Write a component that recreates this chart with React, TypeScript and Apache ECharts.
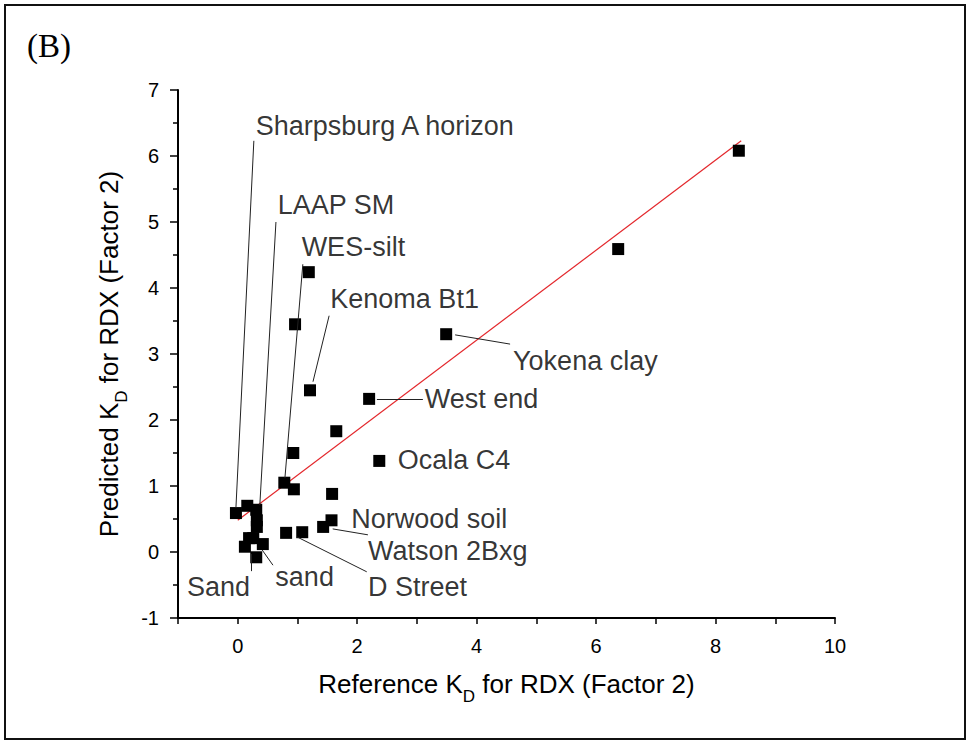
import React, { useEffect, useRef } from "react";
import * as echarts from "echarts";

// Reference K_D (x) and predicted K_D (y) for RDX, Factor 2
const referenceKd = [
  -0.03, 0.16, 0.31, 0.32, 0.32, 0.26, 0.19, 0.12, 0.42, 0.31, 0.81, 1.08, 1.43, 1.57,
  1.58, 0.94, 0.78, 0.93, 1.65, 2.37, 2.2, 1.21, 0.96, 1.19, 3.49, 6.37, 8.39,
];
const predictedKd = [
  0.59, 0.7, 0.64, 0.48, 0.38, 0.21, 0.21, 0.08, 0.12, -0.08, 0.29, 0.3, 0.38, 0.48,
  0.88, 0.95, 1.05, 1.5, 1.83, 1.38, 2.32, 2.45, 3.45, 4.24, 3.3, 4.59, 6.08,
];

// fitted line end points
const fitX = [0, 8.43];
const fitY = [0.48, 6.23];

// axis ranges
const xMin = -1;
const xMax = 10;
const yMin = -1;
const yMax = 7;

// annotation texts and their anchors (data units)
const labelNames = [
  "Sharpsburg A horizon",
  "LAAP SM",
  "WES-silt",
  "Kenoma Bt1",
  "Yokena clay",
  "West end",
  "Ocala C4",
  "Norwood soil",
  "Watson 2Bxg",
  "D Street",
  "Sand",
  "sand",
];
const labelAnchorX = [0.3, 0.67, 1.07, 1.55, 4.61, 3.13, 2.68, 1.9, 2.18, 2.18, -0.85, 0.63];
const labelAnchorY = [6.45, 5.26, 4.62, 3.83, 2.89, 2.32, 1.39, 0.5, 0.02, -0.53, -0.53, -0.38];

// leader lines (data units)
const leaderFrom = [
  [0.27, 6.23],
  [0.64, 5.0],
  [1.09, 4.36],
  [1.53, 3.58],
  [3.64, 3.29],
  [2.33, 2.32],
  [1.59, 0.35],
  [0.99, 0.23],
  [0.22, -0.03],
  [0.41, 0.03],
];
const leaderTo = [
  [-0.03, 0.67],
  [0.37, 0.71],
  [0.79, 1.12],
  [1.26, 2.58],
  [4.56, 3.15],
  [3.1, 2.32],
  [2.18, 0.26],
  [2.16, -0.3],
  [0.22, -0.29],
  [0.59, -0.2],
];

const FONT = "'Liberation Sans', Arial, sans-serif";
const W = 969;
const H = 744;
const GRID_LEFT = 178;
const GRID_RIGHT = 134;
const GRID_TOP = 90;
const GRID_BOTTOM = 126;

export default function App() {
  const ref = useRef<HTMLDivElement>(null);

  useEffect(() => {
    if (!ref.current) return;
    const chart = echarts.init(ref.current, undefined, { renderer: "svg" });

    const titleStyle = {
      fontSize: 26,
      fontFamily: FONT,
      color: "#000",
      rich: {
        sub: { fontSize: 17, fontFamily: FONT, color: "#000", padding: [26, 0, 0, 0] },
      },
    };

    const option: any = {
      animation: false,
      backgroundColor: "#fff",
      grid: { left: GRID_LEFT, right: GRID_RIGHT, top: GRID_TOP, bottom: GRID_BOTTOM, containLabel: false },
      xAxis: {
        type: "value",
        min: xMin,
        max: xMax,
        interval: 1,
        name: "Reference K{sub|D} for RDX (Factor 2)",
        nameLocation: "middle",
        nameGap: 44,
        nameTextStyle: titleStyle,
        axisLine: { show: true, onZero: false, lineStyle: { color: "#000", width: 2 } },
        axisTick: { show: true, length: 6, lineStyle: { color: "#000", width: 1.5 } },
        axisLabel: {
          fontSize: 20,
          fontFamily: FONT,
          color: "#000",
          margin: 18,
          formatter: (v: number) => (v % 2 === 0 ? String(v) : ""),
        },
        splitLine: { show: false },
      },
      yAxis: {
        type: "value",
        position: "left",
        min: yMin,
        max: yMax,
        interval: 1,
        name: "Predicted K{sub|D} for RDX (Factor 2)",
        nameLocation: "middle",
        nameGap: 42,
        nameRotate: 90,
        nameTextStyle: titleStyle,
        axisLine: { show: true, onZero: false, lineStyle: { color: "#000", width: 2 } },
        axisTick: { show: true, length: 8, lineStyle: { color: "#000", width: 1.5 } },
        minorTick: { show: true, splitNumber: 2, length: 5, lineStyle: { color: "#000", width: 1.5 } },
        axisLabel: { fontSize: 20, fontFamily: FONT, color: "#000", margin: 19 },
        splitLine: { show: false },
        minorSplitLine: { show: false },
      },
      series: [
        {
          type: "line",
          data: [
            [fitX[0], fitY[0]],
            [fitX[1], fitY[1]],
          ],
          showSymbol: false,
          symbol: "none",
          lineStyle: { color: "#e3262b", width: 1.2 },
          silent: true,
          z: 2,
        },
        {
          type: "scatter",
          data: referenceKd.map((x, i) => [x, predictedKd[i]]),
          symbol: "rect",
          symbolSize: 12,
          itemStyle: { color: "#000", opacity: 1 },
          silent: true,
          z: 3,
        },
        {
          type: "scatter",
          data: labelNames.map((n, i) => ({ name: n, value: [labelAnchorX[i], labelAnchorY[i]] })),
          symbolSize: 0,
          silent: true,
          label: {
            show: true,
            position: "right",
            distance: 0,
            formatter: "{b}",
            fontSize: 27,
            fontFamily: FONT,
            color: "#000",
          },
          markLine: {
            silent: true,
            symbol: ["none", "none"],
            label: { show: false },
            lineStyle: { color: "#222", width: 1, type: "solid" },
            emphasis: { disabled: true },
            data: leaderFrom.map((f, i) => [{ coord: f }, { coord: leaderTo[i] }]),
          },
          z: 4,
        },
      ],
      graphic: [
        {
          type: "rect",
          shape: { x: 5, y: 5, width: W - 9, height: H - 10 },
          style: { fill: "none", stroke: "#111", lineWidth: 2 },
          silent: true,
        },
        {
          // left axis spine, solid, aligned with the grid's left edge
          type: "rect",
          shape: { x: GRID_LEFT - 1, y: GRID_TOP, width: 2, height: H - GRID_TOP - GRID_BOTTOM + 1 },
          style: { fill: "#000" },
          silent: true,
          z: 100,
        },
        {
          type: "text",
          x: 27,
          y: 46,
          style: {
            text: "(B)",
            fontSize: 33,
            fontFamily: "'Liberation Serif', 'DejaVu Serif', serif",
            fill: "#000",
            verticalAlign: "middle",
            align: "left",
          },
          silent: true,
        },
      ],
    };

    chart.setOption(option);
    return () => chart.dispose();
  }, []);

  return (
    <div
      ref={ref}
      style={{ position: "absolute", left: 0, top: 0, width: W, height: H, background: "#fff" }}
    />
  );
}
